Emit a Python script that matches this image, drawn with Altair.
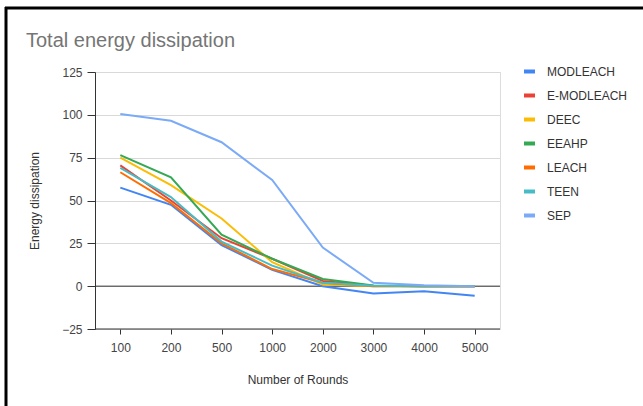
import altair as alt
import pandas as pd

rounds = ["100", "200", "500", "1000", "2000", "3000", "4000", "5000"]
series_names = ["MODLEACH", "E-MODLEACH", "DEEC", "EEAHP", "LEACH", "TEEN", "SEP"]
colors = ["#4285F4", "#EA4335", "#FBBC04", "#34A853", "#FF6D01", "#46BDC6", "#7BAAF7"]

modleach = [57.5, 47.5, 24, 9.5, 0, -4.3, -3, -5.6]
e_modleach = [70.5, 50, 28, 16, 3, 0.3, 0, 0]
deec = [75, 59, 39.5, 14, 1, 0, 0, 0]
eeahp = [76.5, 63.5, 30, 16, 4.2, 0.4, 0, 0]
leach = [66.5, 48.5, 25, 10, 2, 0, 0, 0]
teen = [69, 52, 26, 12, 2, 0.2, 0, 0]
sep = [100.5, 96.5, 84, 62, 22.5, 2, 0.5, 0]

values = [modleach, e_modleach, deec, eeahp, leach, teen, sep]
rows = []
for name, vals in zip(series_names, values):
    for r, v in zip(rounds, vals):
        rows.append({"Rounds": r, "Series": name, "Value": v})
df = pd.DataFrame(rows)

font = "Liberation Sans"

lines = alt.Chart(df).mark_line(strokeWidth=2).encode(
    x=alt.X("Rounds:N", sort=rounds, scale=alt.Scale(type="point", padding=0.5),
            axis=alt.Axis(title="Number of Rounds", labelAngle=0, labelFontSize=12,
                          labelColor="#444444", labelPadding=8, tickColor="#333333",
                          domain=False, grid=False, titleFontSize=12,
                          titleFontWeight="normal", titleColor="#333333", titlePadding=21,
                          labelFont=font, titleFont=font)),
    y=alt.Y("Value:Q", scale=alt.Scale(domain=[-25, 125], nice=False, zero=False),
            axis=alt.Axis(title="Energy dissipation", values=[-25, 0, 25, 50, 75, 100, 125],
                          labelFontSize=12, labelColor="#444444", tickSize=8,
                          tickColor="#333333", domainColor="#333333", gridColor="#d9d9d9",
                          labelPadding=5, titleFontSize=12, titleFontWeight="normal",
                          titleColor="#333333", titlePadding=20,
                          labelFont=font, titleFont=font)),
    color=alt.Color("Series:N", sort=series_names,
                    scale=alt.Scale(domain=series_names, range=colors),
                    legend=alt.Legend(title=None, orient="none", legendX=427, legendY=-8,
                                      symbolType="stroke", symbolStrokeWidth=4,
                                      symbolSize=120, labelFontSize=12,
                                      labelColor="#333333", rowPadding=7,
                                      labelFont=font, labelOffset=10)),
)

zero = alt.Chart(pd.DataFrame({"z": [0]})).mark_rule(color="#333333", strokeWidth=1).encode(
    y="z:Q"
)

bottom = alt.Chart(pd.DataFrame({"z": [-25]})).mark_rule(color="#333333", strokeWidth=1).encode(
    y="z:Q"
)

border_left = alt.Chart(pd.DataFrame({"a": [0]})).mark_rule(
    color="#000000", strokeWidth=3, clip=False).encode(
    x=alt.value(-89), y=alt.value(-65), y2=alt.value(340)
)
border_top = alt.Chart(pd.DataFrame({"a": [0]})).mark_rule(
    color="#000000", strokeWidth=3, clip=False).encode(
    x=alt.value(-90), x2=alt.value(560), y=alt.value(-64)
)

chart = alt.layer(zero, bottom, lines, border_left, border_top).properties(
    width=405, height=257,
    title=alt.TitleParams("Total energy dissipation", anchor="start", frame="group",
                          dx=-69, dy=65, offset=20, fontSize=20, fontWeight="normal",
                          color="#757575", font=font),
    padding={"left": 95, "top": 72, "right": 143, "bottom": 77},
    autosize=alt.AutoSizeParams(type="none"),
).configure_view(stroke=None).configure(background="white")

chart.save("out.html", embed_options={"renderer": "svg", "actions": False})
